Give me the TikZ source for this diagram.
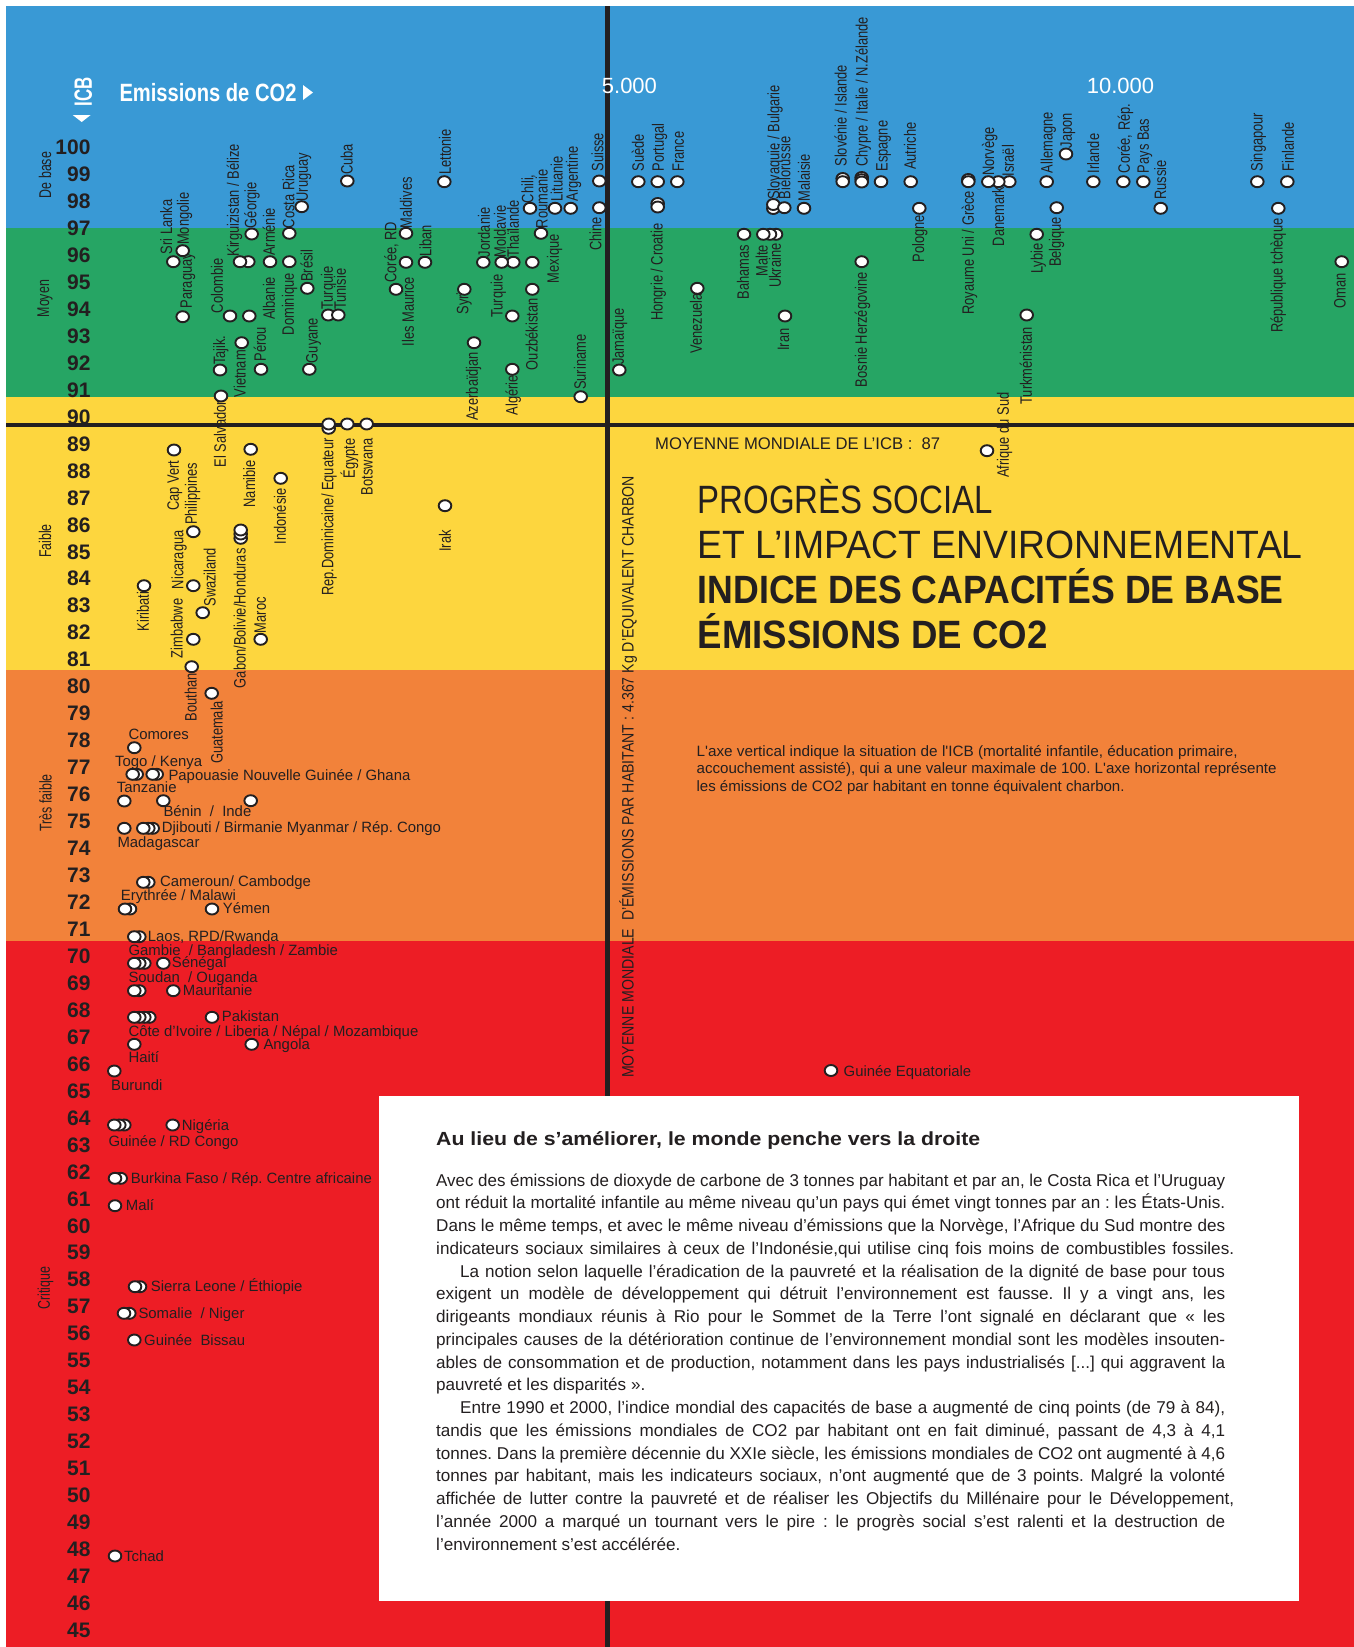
\documentclass[tikz,border=0pt]{standalone}
\usepackage{graphicx}
\usepackage{fontspec}
\setmainfont{Liberation Sans}
\newfontfamily\condf{Liberation Sans}[FakeStretch=0.78]
\newfontfamily\catf{Liberation Sans}[FakeStretch=0.73]
\usetikzlibrary{shapes.geometric}
\definecolor{cblue}{RGB}{57,153,213}
\definecolor{cgreen}{RGB}{38,165,100}
\definecolor{cyellow}{RGB}{253,214,62}
\definecolor{corange}{RGB}{242,130,58}
\definecolor{cred}{RGB}{237,29,37}
\definecolor{ink}{RGB}{35,31,32}
\frenchspacing
\newcounter{nn}
\newsavebox\lbox
\newcommand\fitline[2]{\sbox\lbox{#2}\ifdim\wd\lbox>#1pt\relax\resizebox{#1pt}{\height}{\usebox\lbox}\else\makebox[#1pt][s]{#2}\fi}
\newcommand\vl[3]{\stepcounter{nn}\node[vlab,anchor=west] (v\arabic{nn}) at (#1+1.5,#2) {#3};}
\newcommand\vd[3]{\stepcounter{nn}\node[vlab,anchor=east] (v\arabic{nn}) at (#1+1.5,#2) {#3};}
\newcommand\hl[3]{\stepcounter{nn}\node[hlab] (h\arabic{nn}) at (#1,#2) {#3};}
\newcommand\pd[2]{\stepcounter{nn}\node[pdot] (d\arabic{nn}) at (#1,#2) {};}
\newcommand\jl[4]{\stepcounter{nn}\node[bx] (b\arabic{nn}) at (#1,#2) {\fitline{#3}{#4}};}
\newcommand\nl[3]{\stepcounter{nn}\node[bx] (b\arabic{nn}) at (#1,#2) {#3};}
\begin{document}
\begin{tikzpicture}[x=1pt,y=-1pt,
 vlab/.style={rotate=90,inner sep=0pt,text height=12pt,text depth=3.3pt,font=\condf\fontsize{16.5}{19}\selectfont,text=ink},
 hlab/.style={anchor=base west,inner sep=0pt,font=\fontsize{14.9}{17}\selectfont,text=ink},
 pdot/.style={ellipse,draw=ink,fill=white,line width=1.9pt,minimum width=12.6pt,minimum height=11pt,inner sep=0pt},
 num/.style={anchor=base east,inner sep=0pt,font=\bfseries\fontsize{21}{24}\selectfont,text=ink},
 cat/.style={rotate=90,inner sep=0pt,font=\catf\fontsize{17}{20}\selectfont,text=ink},
 bx/.style={anchor=base west,inner sep=0pt,font=\fontsize{17.1}{20}\selectfont\frenchspacing,text=ink},
 tl/.style={anchor=base west,inner sep=0pt,text=ink},
]
\useasboundingbox (0,0) rectangle (1354,1647);
\fill[white] (0,0) rectangle (1354,1647);
\fill[cblue] (6,6) rectangle (1354,228);
\fill[cgreen] (6,228) rectangle (1354,397);
\fill[cyellow] (6,397) rectangle (1354,670);
\fill[corange] (6,670) rectangle (1354,941);
\fill[cred] (6,941) rectangle (1354,1647);
% axes lines
\coordinate (hA) at (6,425); \coordinate (hB) at (1354,425);
\coordinate (vA) at (607.3,6); \coordinate (vB) at (607.3,1647);
\draw[ink,line width=4.6pt] (hA) -- (hB);
\draw[ink,line width=4.6pt] (vA) -- (vB);
% white box
\fill[white] (379,1096) rectangle (1299,1601);
% header
\node[rotate=90,inner sep=0pt,text=white] (icb) at (83.3,92) {\resizebox{29pt}{\height}{\bfseries\fontsize{25}{28}\selectfont ICB}};
\fill[white] (72.7,115) -- (90.7,115) -- (81.7,122) -- cycle;
\node[tl,text=white] (em) at (119.3,101.7) {\resizebox{177pt}{\height}{\bfseries\fontsize{25}{28}\selectfont Emissions de CO2}};
\fill[white] (303,85) -- (313,92.5) -- (303,100) -- cycle;
\node[tl,text=white,font=\fontsize{22}{26}\selectfont] (x5) at (601.7,93.3) {5.000};
\node[tl,text=white,font=\fontsize{22}{26}\selectfont] (x10) at (1086.7,93.3) {10.000};
% axis numbers
\foreach \v in {45,...,100} \node[num] (n\v) at (90.7,{154.6+(100-\v)*26.96}) {\v};
% categories
\node[cat] (c1) at (45,175) {De base};
\node[cat] (c2) at (45,298.7) {Moyen};
\node[cat] (c3) at (45,541) {Faible};
\node[cat] (c4) at (45.5,803) {Très faible};
\node[cat] (c5) at (45.5,1288) {Critique};
% titles
\node[tl] (mm) at (655,449.3) {\resizebox{285pt}{\height}{\fontsize{16.8}{19}\selectfont MOYENNE MONDIALE DE L’ICB :\ \ 87}};
\node[tl] (t1) at (697.5,513.3) {\resizebox{295pt}{\height}{\fontsize{39.5}{44}\selectfont PROGRÈS SOCIAL}};
\node[tl] (t2) at (697.5,558.3) {\resizebox{605pt}{\height}{\fontsize{39.5}{44}\selectfont ET L’IMPACT ENVIRONNEMENTAL}};
\node[tl] (t3) at (697.5,603.3) {\resizebox{586pt}{\height}{\bfseries\fontsize{39.5}{44}\selectfont INDICE DES CAPACITÉS DE BASE}};
\node[tl] (t4) at (697.5,648.3) {\resizebox{350pt}{\height}{\bfseries\fontsize{39.5}{44}\selectfont ÉMISSIONS DE CO2}};
\node[tl] (d1) at (696.4,756) {\resizebox{541pt}{\height}{\condf\fontsize{15}{18}\selectfont L'axe vertical indique la situation de l'ICB (mortalité infantile, éducation primaire,}};
\node[tl] (d2) at (696.4,773.5) {\resizebox{580pt}{\height}{\condf\fontsize{15}{18}\selectfont accouchement assisté), qui a une valeur maximale de 100. L'axe horizontal représente}};
\node[tl] (d3) at (696.4,791) {\resizebox{428pt}{\height}{\condf\fontsize{15}{18}\selectfont les émissions de CO2 par habitant en tonne équivalent charbon.}};
\node[rotate=90,anchor=west,inner sep=0pt,text height=12pt,text depth=0pt,text=ink] (vt) at (627.5,1078) {\resizebox{602pt}{\height}{\condf\fontsize{16.5}{19}\selectfont MOYENNE MONDIALE\ \ D’ÉMISSIONS PAR HABITANT : 4.367 Kg D’EQUIVALENT CHARBON}};
% box text
\node[tl] (bh) at (436,1145) {\resizebox{544pt}{\height}{\bfseries\fontsize{19}{22}\selectfont Au lieu de s’améliorer, le monde penche vers la droite}};
\jl{436}{1186}{789}{Avec des émissions de dioxyde de carbone de 3 tonnes par habitant et par an, le Costa Rica et l'Uruguay}
\jl{436}{1208.75}{789}{ont réduit la mortalité infantile au même niveau qu'un pays qui émet vingt tonnes par an : les États-Unis.}
\jl{436}{1231.5}{789}{Dans le même temps, et avec le même niveau d'émissions que la Norvège, l'Afrique du Sud montre des}
\jl{436}{1254.25}{798}{indicateurs sociaux similaires à ceux de l'Indonésie,qui utilise cinq fois moins de combustibles fossiles.}
\jl{460}{1277}{765}{La notion selon laquelle l'éradication de la pauvreté et la réalisation de la dignité de base pour tous}
\jl{436}{1299.75}{789}{exigent un modèle de développement qui détruit l'environnement est fausse. Il y a vingt ans, les}
\jl{436}{1322.5}{789}{dirigeants mondiaux réunis à Rio pour le Sommet de la Terre l'ont signalé en déclarant que « les}
\jl{436}{1345.25}{789}{principales causes de la détérioration continue de l'environnement mondial sont les modèles insouten-}
\jl{436}{1368}{789}{ables de consommation et de production, notamment dans les pays industrialisés [...] qui aggravent la}
\nl{436}{1390.75}{pauvreté et les disparités ».}
\jl{460}{1413.5}{765}{Entre 1990 et 2000, l'indice mondial des capacités de base a augmenté de cinq points (de 79 à 84),}
\jl{436}{1436.25}{789}{tandis que les émissions mondiales de CO2 par habitant ont en fait diminué, passant de 4,3 à 4,1}
\jl{436}{1459}{789}{tonnes. Dans la première décennie du XXIe siècle, les émissions mondiales de CO2 ont augmenté à 4,6}
\jl{436}{1481.75}{789}{tonnes par habitant, mais les indicateurs sociaux, n'ont augmenté que de 3 points. Malgré la volonté}
\jl{436}{1504.5}{798}{affichée de lutter contre la pauvreté et de réaliser les Objectifs du Millénaire pour le Développement,}
\jl{436}{1527.25}{789}{l'année 2000 a marqué un tournant vers le pire : le progrès social s'est ralenti et la destruction de}
\nl{436}{1550}{l'environnement s'est accélérée.}
% rotated labels: blue / green
\vl{166.3}{254.3}{Sri Lanka}
\vl{183}{245}{Mongolie}
\vl{186}{308.3}{Paraguay}
\vl{233}{256.7}{Kirguizistan / Bélize}
\vl{250.5}{228.3}{Géorgie}
\vl{269}{256}{Arménie}
\vl{288.5}{228.3}{Costa Rica}
\vl{302}{201.7}{Uruguay}
\vd{288}{273.3}{Dominique}
\vl{306.7}{282}{Brésil}
\vl{269}{320}{Albanie}
\vl{217}{313.3}{Colombie}
\vl{219.3}{365}{Tajik.}
\vd{239.7}{350}{Vietnam}
\vl{260}{361.7}{Pérou}
\vl{311.7}{363.3}{Guyane}
\vd{220}{401}{El Salvador}
\vl{327}{310}{Turquie}
\vl{340}{310}{Tunisie}
\vl{346.7}{175}{Cuba}
\vl{390.5}{282.7}{Corée, RD}
\vl{406}{228.3}{Maldives}
\vd{408}{276.7}{Iles Maurice}
\vl{425.5}{256.7}{Liban}
\vl{445}{175}{Lettonie}
\vd{462.5}{285}{Syrie}
\vd{472}{351.7}{Azerbaïdjan}
\vl{484}{257.3}{Jordanie}
\vl{500}{257.3}{Moldavie}
\vl{513}{257.3}{Thaïlande}
\vl{496.7}{318}{Turquie}
\vd{511.7}{375}{Algérie}
\vl{527.5}{203.3}{Chili,}
\vl{541.7}{228.3}{Roumanie}
\vl{553}{283.3}{Mexique}
\vd{531.7}{298.3}{Ouzbékistan}
\vl{556.7}{201.7}{Lituanie}
\vl{572}{201.7}{Argentine}
\vl{597.5}{171.7}{Suisse}
\vd{595.5}{216.7}{Chine}
\vl{580}{390}{Suriname}
\vl{618}{365}{Jamaïque}
\vl{638}{171.7}{Suède}
\vl{658}{171.7}{Portugal}
\vl{678}{171.7}{France}
\vd{656.7}{223.3}{Hongrie / Croatie}
\vd{696}{293.3}{Venezuela}
\vl{773.5}{200}{Slovaquie / Bulgarie}
\vl{784.5}{199.3}{Biélorussie}
\vl{804}{201.7}{Malaisie}
\vd{743}{245}{Bahamas}
\vd{761.7}{245}{Malte}
\vd{775}{243.3}{Ukraine}
\vd{783.3}{328.3}{Iran}
\vl{840.8}{166.7}{Slovénie / Islande}
\vl{861.7}{166.7}{Chypre / Italie / N.Zélande}
\vl{881.7}{171.7}{Espagne}
\vl{910}{170}{Autriche}
\vd{918.3}{215}{Pologne}
\vd{861}{271.7}{Bosnie Herzégovine}
\vd{968}{190.7}{Royaume Uni / Grèce}
\vl{988.3}{176}{Norvège}
\vd{998.3}{186.7}{Danemark}
\vl{1008}{176.7}{Israël}
\vl{1046.7}{173.3}{Allemagne}
\vl{1066}{148.3}{Japon}
\vd{1055}{216.7}{Belgique}
\vd{1036.7}{243.3}{Lybie}
\vd{1026}{326.7}{Turkménistan}
\vl{1093.3}{173.3}{Irlande}
\vl{1124}{173.3}{Corée, Rép.}
\vl{1143}{173.3}{Pays Bas}
\vl{1160.3}{200}{Russie}
\vl{1256.7}{171.7}{Singapour}
\vl{1288}{171.7}{Finlande}
\vd{1276.7}{218.3}{République tchèque}
\vd{1339.7}{273.3}{Oman}
\vl{1003}{478}{Afrique du Sud}
% yellow
\vd{327.5}{438.3}{Rep.Dominicaine/ Equateur}
\vd{349}{438.3}{Égypte}
\vd{366.7}{438.3}{Botswana}
\vd{173}{460.7}{Cap Vert}
\vl{191}{525}{Philippines}
\vd{249.3}{460}{Namibie}
\vd{280}{488.3}{Indonésie}
\vd{239.7}{548.3}{Gabon/Bolivie/Honduras}
\vd{445}{530}{Irak}
\vd{143}{591.7}{Kiribati}
\vl{177.5}{589.3}{Nicaragua}
\vl{209.7}{606.7}{Swaziland}
\vl{176.7}{658.3}{Zimbabwe}
\vd{190.8}{673}{Bouthan}
\vl{260}{633.3}{Maroc}
\vd{216.7}{700.7}{Guatemala}
% horizontal labels
\hl{128.3}{739.3}{Comores}
\hl{115}{766}{Togo / Kenya}
\hl{168.3}{780}{Papouasie Nouvelle Guinée / Ghana}
\hl{116.7}{792.7}{Tanzanie}
\hl{163.3}{816.7}{Bénin\ \ /\ \ Inde}
\hl{117.3}{847.3}{Madagascar}
\hl{161.7}{832.7}{Djibouti / Birmanie Myanmar / Rép. Congo}
\hl{160}{886.7}{Cameroun/ Cambodge}
\hl{120.7}{900.7}{Erythrée / Malawi}
\hl{222.7}{913.3}{Yémen}
\hl{147.7}{941}{Laos, RPD/Rwanda}
\hl{128.3}{955}{Gambie\ \ / Bangladesh / Zambie}
\hl{171.7}{967.7}{Sénégal}
\hl{128.3}{982.7}{Soudan\ \ / Ouganda}
\hl{182.7}{995}{Mauritanie}
\hl{221.7}{1021.7}{Pakistan}
\hl{128.3}{1036}{Côte d'Ivoire / Liberia / Népal / Mozambique}
\hl{263.3}{1049.3}{Angola}
\hl{128.3}{1062.7}{Haití}
\hl{111}{1090}{Burundi}
\hl{181.7}{1130}{Nigéria}
\hl{108.3}{1146.7}{Guinée / RD Congo}
\hl{130.7}{1183.3}{Burkina Faso / Rép. Centre africaine}
\hl{125.7}{1210}{Malí}
\hl{150.7}{1291}{Sierra Leone / Éthiopie}
\hl{138.3}{1318.3}{Somalie\ \ / Niger}
\hl{144}{1345}{Guinée\ \ Bissau}
\hl{124}{1561}{Tchad}
\hl{843.5}{1076.7}{Guinée Equatoriale}
% dots blue/green
\pd{173.3}{261.7}\pd{182.7}{250.7}\pd{182.7}{316.7}
\pd{248.3}{261.7}\pd{240}{261.7}
\pd{251.7}{234}\pd{270}{261.7}\pd{289.3}{233.3}\pd{301.7}{206.7}
\pd{289.3}{261.7}\pd{307.3}{288.3}\pd{249.3}{316}\pd{230}{316}
\pd{220}{370}\pd{241.7}{342.7}\pd{261}{369.3}\pd{309.3}{369.3}\pd{221}{396}
\pd{328.3}{315}\pd{338.3}{315}
\pd{347.3}{181}\pd{396}{289.3}\pd{406}{233.3}\pd{406}{262.3}\pd{425}{262.3}
\pd{444.3}{181.7}\pd{464.3}{289.3}\pd{474}{342.7}\pd{483.3}{262.3}
\pd{513.3}{262.3}\pd{501.7}{262.3}
\pd{512.3}{316}\pd{512.3}{369.3}\pd{530}{208.3}\pd{541}{233.3}
\pd{532.3}{262.3}\pd{532.3}{289.3}\pd{555}{208.3}\pd{570.7}{208.3}
\pd{599.3}{181}\pd{599.3}{207.7}\pd{580.7}{396.7}\pd{619.3}{370}
\pd{638.3}{181.7}\pd{657.7}{181.7}\pd{677.3}{181.7}
\pd{657.7}{203.5}\pd{657.7}{207}
\pd{697.3}{288.3}
\pd{773.3}{208.5}\pd{773.3}{204.5}
\pd{784.3}{207.7}\pd{804}{208.3}\pd{744}{234.3}
\pd{776}{234.3}\pd{770}{234.3}\pd{763.3}{234.3}
\pd{785}{316}
\pd{842.7}{178.5}\pd{842.7}{181.7}
\pd{861.7}{177.5}\pd{861.7}{179.7}\pd{861.7}{182}
\pd{881}{181.7}\pd{910.7}{181.7}\pd{919.3}{208.3}\pd{861.7}{261.7}
\pd{968.3}{179.5}\pd{968.3}{181.7}
\pd{1009.3}{181.7}\pd{998.3}{181.7}\pd{988.3}{181.7}
\pd{1046.7}{181.7}\pd{1066}{154}\pd{1056.7}{207.7}\pd{1036.7}{234.3}\pd{1026.7}{315}
\pd{1093.3}{181.7}\pd{1123.3}{181.7}\pd{1143.3}{181.7}\pd{1160.7}{208.3}
\pd{1257.3}{181.7}\pd{1287.3}{181.7}\pd{1278.3}{208.3}\pd{1341.7}{261.7}
\pd{987}{450.7}
% dots yellow
\pd{328.7}{428.3}\pd{328.7}{424}\pd{347.3}{424}\pd{366.7}{424}
\pd{174}{450}\pd{193.3}{531.7}\pd{250.7}{449.3}\pd{280.7}{478.3}
\pd{240.7}{538.3}\pd{240.7}{534}\pd{240.7}{530}
\pd{445}{505.7}\pd{144}{585.7}\pd{193.3}{585.7}\pd{202.7}{612.7}
\pd{193.3}{639.3}\pd{191.7}{666.7}\pd{260.7}{639.3}\pd{211.7}{693.3}
% dots orange/red
\pd{134.3}{747.7}
\pd{136.7}{774.3}\pd{132.7}{774.3}\pd{156.7}{774.3}\pd{152.7}{774.3}
\pd{124.3}{801}\pd{163.3}{800.7}\pd{250.7}{800.7}
\pd{124.3}{828.3}\pd{152.7}{828.3}\pd{148.3}{828.3}\pd{143.3}{828.3}
\pd{148.3}{882.3}\pd{143.3}{882.3}
\pd{130}{909}\pd{125}{909}\pd{212}{909}
\pd{139.3}{936.7}\pd{134.3}{936.7}
\pd{144.3}{963.3}\pd{139.3}{963.3}\pd{134.3}{963.3}\pd{163.3}{963.3}
\pd{139.3}{990.7}\pd{134.3}{990.7}\pd{173.3}{990.7}
\pd{149.3}{1017.3}\pd{144.3}{1017.3}\pd{139.3}{1017.3}\pd{134.3}{1017.3}\pd{212}{1017.3}
\pd{134.3}{1044.3}\pd{251.7}{1044.3}
\pd{114.3}{1071}
\pd{124.3}{1125}\pd{119.3}{1125}\pd{114.3}{1125}\pd{172.7}{1125}
\pd{120.7}{1178.3}\pd{115}{1178.3}
\pd{115}{1205.7}
\pd{140}{1286.7}\pd{135}{1286.7}
\pd{129.3}{1313.3}\pd{124}{1313.3}
\pd{134.3}{1340}
\pd{115}{1556}
\pd{831}{1070.5}
\end{tikzpicture}
\end{document}
